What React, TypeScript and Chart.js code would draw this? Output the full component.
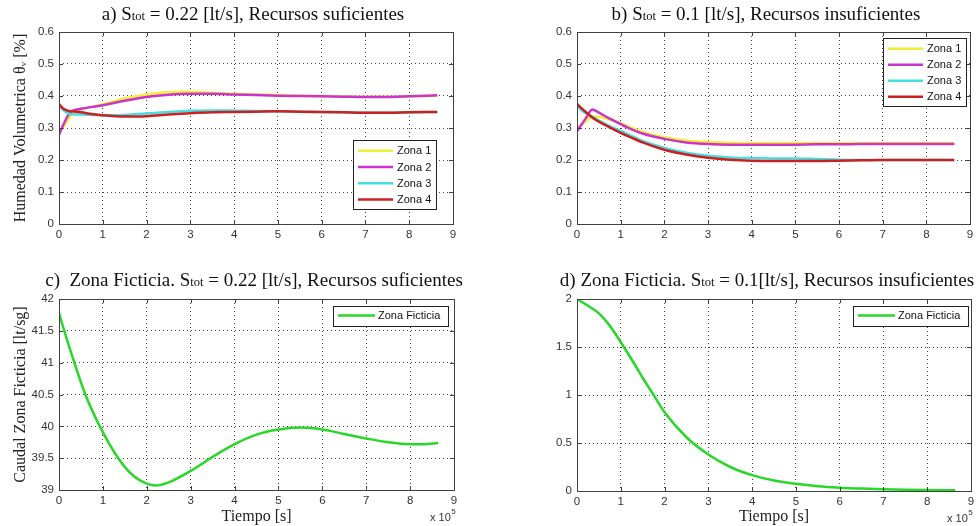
import React, { useEffect, useRef } from 'react';
import { Chart, registerables } from 'chart.js';

Chart.register(...registerables);

const SERIF = '"Liberation Serif", "Times New Roman", serif';
const SANS = '"Liberation Sans", Arial, sans-serif';

// ---------- tick values ----------
const xTickVals = [0, 1, 2, 3, 4, 5, 6, 7, 8, 9];
const yTicksHum = [0, 0.1, 0.2, 0.3, 0.4, 0.5, 0.6];
const yTicksC = [39, 39.5, 40, 40.5, 41, 41.5, 42];
const yTicksD = [0, 0.5, 1, 1.5, 2];

// ---------- panel a (x in units of 1e5 s) ----------
const xA = [0, 0.1, 0.2, 0.3, 0.5, 0.75, 1, 1.5, 2, 2.5, 3, 3.5, 4, 4.5, 5, 5.5, 6, 6.5, 7, 7.5, 8, 8.64];
const zona1A = [0.29, 0.305, 0.325, 0.345, 0.358, 0.366, 0.374, 0.392, 0.405, 0.412, 0.413, 0.41, 0.407, 0.405, 0.403, 0.401, 0.4, 0.399, 0.398, 0.398, 0.399, 0.401];
const zona2A = [0.28, 0.31, 0.338, 0.353, 0.36, 0.366, 0.371, 0.385, 0.397, 0.404, 0.407, 0.407, 0.405, 0.403, 0.401, 0.4, 0.399, 0.398, 0.397, 0.397, 0.399, 0.402];
const zona3A = [0.37, 0.356, 0.346, 0.343, 0.342, 0.341, 0.34, 0.341, 0.345, 0.35, 0.354, 0.355, 0.354, 0.353, 0.352, 0.351, 0.35, 0.349, 0.348, 0.348, 0.349, 0.35];
const zona4A = [0.375, 0.36, 0.354, 0.352, 0.349, 0.344, 0.34, 0.336, 0.337, 0.342, 0.346, 0.349, 0.35, 0.351, 0.352, 0.351, 0.35, 0.349, 0.348, 0.348, 0.349, 0.35];

// ---------- panel b ----------
const xB = [0, 0.1, 0.2, 0.35, 0.5, 0.75, 1, 1.25, 1.5, 2, 2.5, 3, 3.5, 4, 4.5, 5, 5.5, 6, 6.5, 7, 7.5, 8, 8.64];
const zona1B = [0.3, 0.31, 0.32, 0.335, 0.335, 0.326, 0.315, 0.3, 0.288, 0.271, 0.261, 0.256, 0.254, 0.253, 0.253, 0.253, 0.253, 0.253, 0.253, 0.253, 0.253, 0.253, 0.253];
const zona2B = [0.29, 0.31, 0.33, 0.358, 0.348, 0.329, 0.312, 0.296, 0.283, 0.266, 0.255, 0.25, 0.248, 0.248, 0.248, 0.248, 0.249, 0.249, 0.25, 0.25, 0.25, 0.25, 0.25];
const zona3B = [0.37, 0.356, 0.346, 0.336, 0.323, 0.306, 0.29, 0.275, 0.26, 0.238, 0.223, 0.213, 0.208, 0.206, 0.205, 0.205, 0.203, 0.201, 0.2, 0.2, 0.2, 0.2, 0.2];
const zona4B = [0.375, 0.362, 0.35, 0.333, 0.32, 0.302, 0.285, 0.27, 0.255, 0.232, 0.217, 0.207, 0.201, 0.198, 0.197, 0.197, 0.197, 0.198, 0.199, 0.2, 0.2, 0.2, 0.2];

// ---------- panel c ----------
const xC = [0, 0.12, 0.35, 0.6, 0.93, 1.35, 1.7, 2.0, 2.2, 2.5, 3, 3.5, 4, 4.5, 5, 5.5, 6, 6.5, 7, 7.5, 8, 8.3, 8.64];
const ficticiaC = [41.78, 41.5, 41.0, 40.5, 40.0, 39.5, 39.22, 39.1, 39.07, 39.12, 39.3, 39.52, 39.72, 39.87, 39.95, 39.98, 39.95, 39.88, 39.81, 39.75, 39.72, 39.72, 39.74];

// ---------- panel d ----------
const xD = [0, 0.25, 0.5, 0.75, 1, 1.25, 1.5, 1.75, 2, 2.5, 3, 3.5, 4, 4.5, 5, 5.5, 6, 6.5, 7, 7.5, 8, 8.64];
const ficticiaD = [2.0, 1.93, 1.85, 1.72, 1.55, 1.37, 1.18, 1.0, 0.82, 0.56, 0.38, 0.25, 0.165, 0.11, 0.075, 0.05, 0.035, 0.025, 0.018, 0.013, 0.01, 0.008];

const zonaLabels = ['Zona 1', 'Zona 2', 'Zona 3', 'Zona 4'];
const zonaColors = ['#f0f034', '#cc33cc', '#44dede', '#cc2020'];
const ficticiaLabel = 'Zona Ficticia';
const ficticiaColor = '#28d828';

type Series = { label: string; color: string; xs: number[]; ys: number[] };
type LegendCfg = { right: number; top?: number; bottom?: number; w: number; h: number; rowH: number; firstRow: number; lineFrom: number; lineTo: number; textX: number };
type PanelCfg = {
  left: number; top: number; width: number; height: number;
  area: { left: number; right: number; top: number; bottom: number };
  title: [string, string, string]; titleX: number; titleBase: number;
  yTicks: number[]; yTitle?: string; xTitle?: string; exp?: boolean;
  series: Series[]; legend: LegendCfg;
};

const panels: PanelCfg[] = [
  {
    left: 0, top: 0, width: 490, height: 260,
    area: { left: 59, right: 453, top: 32, bottom: 224 },
    title: ['a) S', 'tot', ' = 0.22 [lt/s], Recursos suficientes'], titleX: 253, titleBase: 20,
    yTicks: yTicksHum, yTitle: 'Humedad Volumetrica θᵥ [%]',
    series: [
      { label: zonaLabels[0], color: zonaColors[0], xs: xA, ys: zona1A },
      { label: zonaLabels[1], color: zonaColors[1], xs: xA, ys: zona2A },
      { label: zonaLabels[2], color: zonaColors[2], xs: xA, ys: zona3A },
      { label: zonaLabels[3], color: zonaColors[3], xs: xA, ys: zona4A },
    ],
    legend: { right: 17, bottom: 15, w: 83, h: 69, rowH: 16.2, firstRow: 10.8, lineFrom: 5, lineTo: 40, textX: 44 },
  },
  {
    left: 490, top: 0, width: 489, height: 260,
    area: { left: 87, right: 480, top: 32, bottom: 224 },
    title: ['b) S', 'tot', ' = 0.1 [lt/s], Recursos insuficientes'], titleX: 276, titleBase: 20,
    yTicks: yTicksHum,
    series: [
      { label: zonaLabels[0], color: zonaColors[0], xs: xB, ys: zona1B },
      { label: zonaLabels[1], color: zonaColors[1], xs: xB, ys: zona2B },
      { label: zonaLabels[2], color: zonaColors[2], xs: xB, ys: zona3B },
      { label: zonaLabels[3], color: zonaColors[3], xs: xB, ys: zona4B },
    ],
    legend: { right: 4, top: 6, w: 83, h: 68, rowH: 16, firstRow: 10.8, lineFrom: 5, lineTo: 40, textX: 44 },
  },
  {
    left: 0, top: 260, width: 490, height: 266,
    area: { left: 59, right: 454, top: 39, bottom: 230 },
    title: ['c)  Zona Ficticia. S', 'tot', ' = 0.22 [lt/s], Recursos suficientes'], titleX: 254, titleBase: 26,
    yTicks: yTicksC, yTitle: 'Caudal Zona Ficticia [lt/sg]', xTitle: 'Tiempo [s]', exp: true,
    series: [{ label: ficticiaLabel, color: ficticiaColor, xs: xC, ys: ficticiaC }],
    legend: { right: 6, top: 6.5, w: 115, h: 20, rowH: 16, firstRow: 10, lineFrom: 5, lineTo: 42, textX: 45 },
  },
  {
    left: 490, top: 260, width: 489, height: 266,
    area: { left: 87, right: 481, top: 39, bottom: 231 },
    title: ['d) Zona Ficticia. S', 'tot', ' = 0.1[lt/s], Recursos insuficientes'], titleX: 277, titleBase: 26,
    yTicks: yTicksD, xTitle: 'Tiempo [s]', exp: true,
    series: [{ label: ficticiaLabel, color: ficticiaColor, xs: xD, ys: ficticiaD }],
    legend: { right: 3, top: 6.5, w: 115, h: 20, rowH: 16, firstRow: 10, lineFrom: 5, lineTo: 42, textX: 45 },
  },
];

const fmt = (v: number) => String(+Number(v).toFixed(3));

function buildChart(canvas: HTMLCanvasElement, p: PanelCfg) {
  const datasets = p.series.map((s, i) => ({
    label: s.label,
    data: s.xs.map((x, j) => ({ x, y: s.ys[j] })),
    borderColor: s.color,
    backgroundColor: s.color,
    borderWidth: 2.5,
    pointRadius: 0,
    cubicInterpolationMode: 'monotone' as const,
    order: p.series.length - i,
  }));

  const overlay = {
    id: 'matlabOverlay',
    afterDraw(chart: any) {
      const ctx: CanvasRenderingContext2D = chart.ctx;
      const a = chart.chartArea;
      const xs = chart.scales.x;
      const ys = chart.scales.y;
      ctx.save();
      // frame
      ctx.strokeStyle = '#404040';
      ctx.lineWidth = 1;
      ctx.strokeRect(a.left + 0.5, a.top + 0.5, a.right - a.left, a.bottom - a.top);
      // inward tick marks
      ctx.beginPath();
      xTickVals.forEach((v) => {
        const px = Math.round(xs.getPixelForValue(v)) + 0.5;
        ctx.moveTo(px, a.bottom); ctx.lineTo(px, a.bottom - 4);
        ctx.moveTo(px, a.top); ctx.lineTo(px, a.top + 4);
      });
      p.yTicks.forEach((v) => {
        const py = Math.round(ys.getPixelForValue(v)) + 0.5;
        ctx.moveTo(a.left, py); ctx.lineTo(a.left + 4, py);
        ctx.moveTo(a.right, py); ctx.lineTo(a.right - 4, py);
      });
      ctx.stroke();

      // legend
      const L = p.legend;
      const bx = a.right - L.right - L.w;
      const by = L.top !== undefined ? a.top + L.top : a.bottom - (L.bottom || 0) - L.h;
      ctx.fillStyle = '#ffffff';
      ctx.fillRect(bx, by, L.w, L.h);
      ctx.strokeStyle = '#222';
      ctx.lineWidth = 1;
      ctx.strokeRect(Math.round(bx) + 0.5, Math.round(by) + 0.5, L.w, L.h);
      ctx.font = `11px ${SANS}`;
      ctx.textBaseline = 'middle';
      ctx.textAlign = 'left';
      p.series.forEach((s, i) => {
        const ry = by + L.firstRow + i * L.rowH;
        ctx.strokeStyle = s.color;
        ctx.lineWidth = 2.5;
        ctx.beginPath();
        ctx.moveTo(bx + L.lineFrom, ry);
        ctx.lineTo(bx + L.lineTo, ry);
        ctx.stroke();
        ctx.fillStyle = '#111';
        ctx.fillText(s.label, bx + L.textX, ry + 0.5);
      });

      // title with smaller "tot"
      const big = `19px ${SERIF}`;
      const small = `12.5px ${SERIF}`;
      const [t1, t2, t3] = p.title;
      ctx.font = big; const w1 = ctx.measureText(t1).width; const w3 = ctx.measureText(t3).width;
      ctx.font = small; const w2 = ctx.measureText(t2).width;
      let tx = p.titleX - (w1 + w2 + w3) / 2;
      ctx.fillStyle = '#111';
      ctx.textBaseline = 'alphabetic';
      ctx.font = big; ctx.fillText(t1, tx, p.titleBase); tx += w1;
      ctx.font = small; ctx.fillText(t2, tx, p.titleBase); tx += w2;
      ctx.font = big; ctx.fillText(t3, tx, p.titleBase);

      // exponent label
      if (p.exp) {
        ctx.fillStyle = '#333';
        ctx.font = `11px ${SANS}`;
        const ex = a.right - 24;
        const ey = a.bottom + 31;
        ctx.fillText('x 10', ex, ey);
        const ww = ctx.measureText('x 10').width;
        ctx.font = `8px ${SANS}`;
        ctx.fillText('5', ex + ww + 0.5, ey - 7);
      }
      ctx.restore();
    },
  };

  return new Chart(canvas, {
    type: 'line',
    data: { datasets },
    plugins: [overlay],
    options: {
      animation: false,
      responsive: false,
      events: [],
      layout: { padding: { left: 0, top: p.area.top, right: p.width - p.area.right, bottom: 0 } },
      plugins: { legend: { display: false }, tooltip: { enabled: false }, title: { display: false } },
      scales: {
        x: {
          type: 'linear', min: 0, max: 9,
          afterFit: (s: any) => { s.height = p.height - p.area.bottom; },
          afterBuildTicks: (s: any) => { s.ticks = xTickVals.map((v) => ({ value: v })); },
          ticks: { padding: 4, font: { family: SANS, size: 11.5 }, color: '#333', maxRotation: 0, autoSkip: false, callback: (v: any) => fmt(v) },
          grid: { color: 'rgba(0,0,0,0.75)', lineWidth: 1, drawTicks: false },
          border: { display: false, dash: [1, 3] },
          title: p.xTitle
            ? { display: true, text: p.xTitle, font: { family: SERIF, size: 16 }, color: '#222', padding: { top: 0, bottom: 0 } }
            : { display: false },
        },
        y: {
          type: 'linear', min: p.yTicks[0], max: p.yTicks[p.yTicks.length - 1],
          afterFit: (s: any) => { s.width = p.area.left; },
          afterBuildTicks: (s: any) => { s.ticks = p.yTicks.map((v) => ({ value: v })); },
          ticks: { padding: 5, font: { family: SANS, size: 11.5 }, color: '#333', autoSkip: false, callback: (v: any) => fmt(v) },
          grid: { color: 'rgba(0,0,0,0.75)', lineWidth: 1, drawTicks: false },
          border: { display: false, dash: [1, 3] },
          title: p.yTitle
            ? { display: true, text: p.yTitle, font: { family: SERIF, size: 16 }, color: '#222', padding: { top: 11, bottom: 0 } }
            : { display: false },
        },
      },
    } as any,
  });
}

function Panel({ cfg }: { cfg: PanelCfg }) {
  const ref = useRef<HTMLCanvasElement | null>(null);
  useEffect(() => {
    if (!ref.current) return;
    const chart = buildChart(ref.current, cfg);
    return () => chart.destroy();
  }, [cfg]);
  return (
    <canvas
      ref={ref}
      width={cfg.width}
      height={cfg.height}
      style={{ position: 'absolute', left: cfg.left, top: cfg.top, width: cfg.width, height: cfg.height }}
    />
  );
}

export default function App() {
  return (
    <div style={{ position: 'absolute', left: 0, top: 0, width: 979, height: 526, background: '#ffffff', overflow: 'hidden' }}>
      {panels.map((p, i) => (
        <Panel key={i} cfg={p} />
      ))}
    </div>
  );
}
